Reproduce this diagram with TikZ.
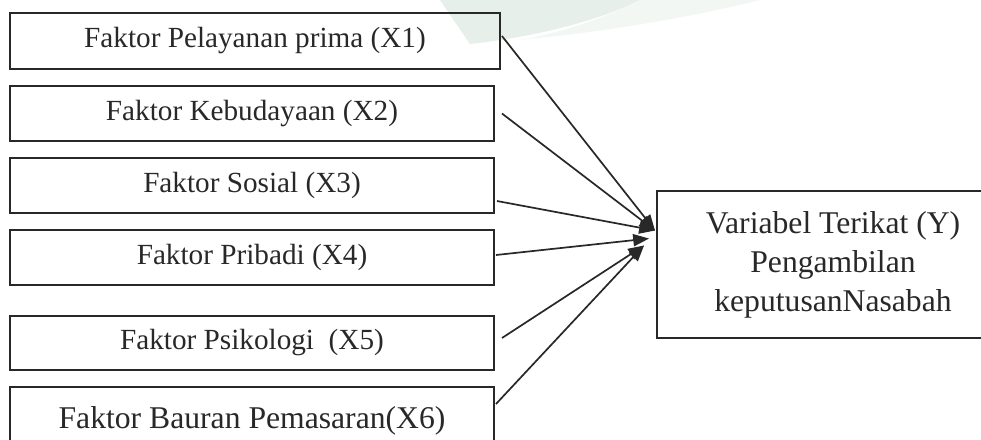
\documentclass[tikz,border=0pt]{standalone}
\usepackage{fontspec}
\setmainfont{Liberation Serif}
\usepackage{tikz}
\usetikzlibrary{calc,arrows.meta}
\def\px{0.01444cm}
\definecolor{wmgreen}{RGB}{230,239,233}
\definecolor{ink}{RGB}{40,40,40}
\tikzset{
	faktor/.style={draw=ink, line width=0.8pt, inner sep=0pt, text=ink, font=\fontsize{12}{14}\selectfont, minimum width={484*\px}, minimum height={55*\px}},
	arr/.style={draw=ink, line width=0.7pt, -{Triangle[length=6.5pt, width=5pt]}}
}

\begin{document}
\begin{tikzpicture}[x=\px, y=-\px]
			%%%%% START %%%%%
			
			\useasboundingbox (0, 0) rectangle (981, 439);
			\clip (0, 0) rectangle (981, 439);
			\fill[white] (0, 0) rectangle (981, 439);
			
			\fill[wmgreen] (440, 0) -- (470, 44) .. controls (540, 36) and (600, 20) .. (640, 0) -- cycle;
			\fill[wmgreen!50] (640, 0) .. controls (600, 20) and (560, 33) .. (520, 40) .. controls (620, 30) and (700, 15) .. (760, 0) -- cycle;
			
			\node[faktor, minimum width={490*\px}, minimum height={56*\px}] (x1) at (255, 41) {Faktor Pelayanan prima (X1)};
			\node[faktor] (x2) at (252, 113.5) {Faktor Kebudayaan (X2)};
			\node[faktor] (x3) at (252, 185.5) {Faktor Sosial (X3)};
			\node[faktor] (x4) at (252, 257.5) {Faktor Pribadi (X4)};
			\node[faktor, minimum height={54*\px}] (x5) at (252, 343) {Faktor Psikologi\ \ (X5)};
			\node[faktor, minimum height={68*\px}, font=\fontsize{13}{15}\selectfont] (x6) at (252, 421) {Faktor Bauran Pemasaran(X6)};
			
			\node[faktor, minimum width={352*\px}, minimum height={147*\px}, align=center, font=\fontsize{13}{16}\selectfont] (y) at (833, 264.5) {Variabel Terikat (Y)\\Pengambilan\\keputusanNasabah};
			
			\coordinate (tipa) at ($(y.west)+(-1, -34)$);
			\coordinate (tipb) at ($(y.west)+(-7, -26)$);
			\coordinate (tipc) at ($(y.west)+(-12, -19)$);
			
			\draw[arr] ($(x1.east)+(1, -5)$) -- (tipa);
			\draw[arr] ($(x2.east)+(7, 0)$) -- (tipa);
			\draw[arr] ($(x3.east)+(2, 15.5)$) -- (tipa);
			\draw[arr] ($(x4.east)+(1, -2.5)$) -- (tipb);
			\draw[arr] ($(x5.east)+(7, -5)$) -- (tipc);
			\draw[arr] ($(x6.east)+(1, -17)$) -- (tipc);
			
			%%%%% END %%%%%
\end{tikzpicture}
\end{document}
